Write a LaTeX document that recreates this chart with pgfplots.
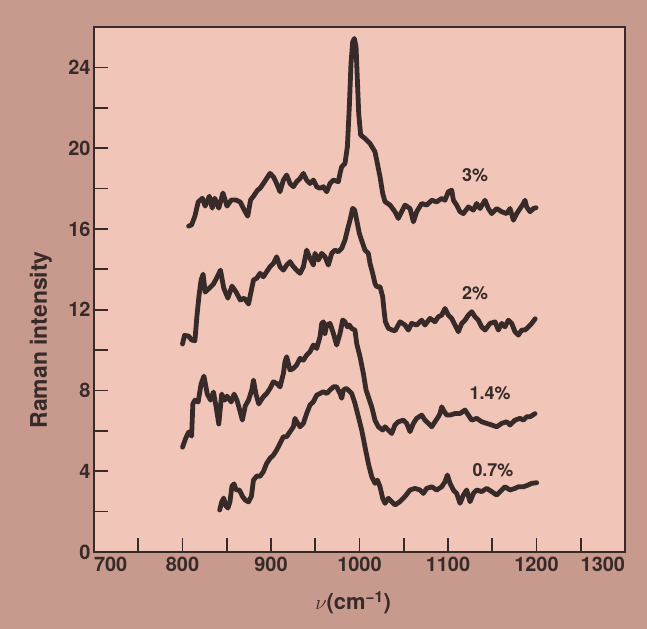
\documentclass[border=0pt]{standalone}
\usepackage{fontspec}
\setmainfont{TeX Gyre Heros}
\usepackage{pgfplots}
\usepackage{pgfplotstable}
\pgfplotsset{compat=1.18}
\definecolor{outerbg}{HTML}{C89A8E}
\definecolor{panel}{HTML}{F1C5B7}
\definecolor{ink}{HTML}{372A28}

\pgfplotstableread{
x y
807.0 16.14
810.3 16.20
814.0 16.63
817.7 17.33
822.4 17.52
825.6 17.13
830.3 17.62
833.6 17.03
836.4 17.52
841.0 17.03
845.7 17.78
850.3 17.13
855.0 17.43
860.6 17.43
865.3 17.33
869.9 16.93
873.7 16.63
876.9 17.43
880.2 17.62
884.8 17.92
887.6 18.01
891.4 18.25
895.1 18.50
898.9 18.75
902.7 18.58
906.4 18.25
910.2 17.84
914.0 18.42
917.7 18.67
921.5 18.25
925.3 18.09
929.0 18.34
932.8 18.50
936.6 18.75
940.3 18.42
944.1 18.25
947.9 18.42
951.6 18.09
955.4 18.01
959.2 18.09
962.9 17.84
966.7 18.25
970.5 18.42
976.1 18.34
978.0 18.75
979.9 19.08
983.6 19.24
986.3 20.07
988.5 22.05
990.4 24.19
992.3 25.27
994.2 25.43
996.1 25.02
997.6 23.37
999.1 21.72
1001.3 20.65
1006.2 20.48
1011.9 20.23
1017.5 19.82
1019.4 19.41
1023.2 18.58
1026.2 17.76
1028.8 17.35
1034.5 17.18
1040.1 16.85
1043.9 16.52
1051.4 17.18
1057.1 17.01
1060.9 16.35
1064.6 16.85
1070.3 17.26
1075.9 17.18
1081.6 17.42
1087.2 17.34
1092.9 17.51
1096.6 17.42
1100.4 17.84
1104.2 17.92
1106.1 17.42
1109.8 17.18
1113.6 16.85
1117.4 16.76
1123.0 17.09
1128.7 16.93
1132.4 17.26
1136.2 17.01
1141.8 17.42
1145.6 17.01
1149.4 16.76
1155.0 17.01
1160.7 16.85
1166.3 16.76
1170.1 17.01
1173.9 16.43
1177.6 16.76
1181.4 17.01
1185.2 17.26
1187.0 17.42
1188.9 17.09
1192.7 16.85
1196.5 17.01
1199.5 17.05
}\tthree

\pgfplotstableread{
x y
800.0 10.30
802.3 10.73
807.0 10.69
810.3 10.50
814.0 10.46
816.3 11.68
818.6 12.67
821.0 13.47
823.3 13.76
825.6 12.87
830.3 13.07
835.0 13.27
839.6 13.66
842.9 13.96
846.6 13.07
851.3 12.57
855.9 13.17
860.6 12.87
865.3 12.48
869.9 12.57
874.6 12.28
876.9 12.77
880.2 13.47
883.9 13.56
887.6 13.80
891.4 13.63
895.1 13.88
898.9 14.13
902.7 14.29
906.4 14.62
910.2 14.13
914.0 13.96
917.7 14.21
921.5 14.38
925.3 14.13
929.0 13.96
932.8 13.80
936.6 14.13
940.3 14.95
944.1 14.54
947.9 14.21
949.7 14.79
953.5 14.46
957.3 14.79
961.0 14.62
964.8 14.21
968.6 14.79
972.3 14.95
976.1 14.87
979.9 15.04
983.6 15.45
986.3 15.94
989.3 16.44
992.3 17.02
994.6 16.93
996.8 16.44
999.8 15.78
1002.9 15.37
1006.2 14.95
1010.0 14.79
1011.9 14.29
1014.9 13.80
1017.5 13.30
1019.4 13.14
1023.2 13.14
1026.2 12.64
1027.7 11.98
1029.2 11.41
1032.6 11.08
1036.4 11.00
1040.1 10.95
1045.8 11.40
1051.4 11.24
1055.2 10.99
1059.0 11.32
1064.6 11.24
1070.3 11.48
1074.0 11.24
1079.7 11.57
1085.3 11.40
1089.1 11.65
1092.9 11.73
1096.6 12.06
1100.4 11.73
1104.2 11.57
1107.9 11.24
1111.7 10.91
1115.5 11.32
1119.2 11.48
1123.0 11.73
1126.8 11.90
1130.5 11.65
1134.3 11.48
1138.1 11.15
1141.8 10.99
1147.5 11.32
1153.1 11.40
1156.9 10.99
1160.7 11.32
1164.4 11.15
1168.2 11.48
1172.0 11.32
1175.7 10.91
1179.5 10.74
1183.3 10.99
1187.0 10.99
1190.8 11.15
1194.6 11.32
1198.5 11.55
}\ttwo

\pgfplotstableread{
x y
800.0 5.19
803.7 5.64
807.0 5.94
810.3 5.74
811.7 7.33
814.0 7.52
817.7 7.43
821.0 8.32
824.2 8.71
828.0 7.82
831.7 7.52
835.0 7.92
838.2 7.13
841.0 6.34
844.3 7.82
847.6 7.52
850.3 7.72
855.0 7.43
858.3 7.82
861.5 7.52
865.3 6.93
867.6 6.53
870.9 7.23
874.6 7.52
878.3 8.02
880.2 8.51
883.0 7.82
886.2 7.33
887.6 7.44
891.4 7.69
895.1 7.85
898.9 8.10
902.7 8.43
906.4 8.35
910.2 8.18
914.0 8.84
915.8 9.42
917.7 9.67
921.5 9.01
925.3 9.09
929.0 9.26
932.8 9.59
936.6 9.50
940.3 9.75
944.1 9.92
947.9 10.25
951.6 10.08
955.4 10.66
957.3 11.32
959.2 11.40
961.0 10.82
962.9 11.24
966.7 11.32
970.5 10.82
974.2 10.25
978.0 10.82
981.0 11.49
983.6 11.40
986.3 11.15
988.5 11.24
991.2 11.07
994.9 10.99
996.8 10.33
1000.6 9.67
1004.4 8.84
1007.4 8.02
1010.0 7.69
1013.8 7.19
1017.5 6.53
1021.3 6.20
1026.2 6.04
1028.8 6.20
1032.6 6.04
1036.4 5.87
1040.1 6.29
1043.9 6.45
1049.6 6.53
1053.3 6.37
1057.1 5.96
1060.9 6.37
1064.6 6.62
1070.3 6.78
1074.0 6.53
1077.8 6.37
1081.6 6.20
1085.3 6.45
1089.1 6.70
1091.0 6.86
1092.9 7.19
1094.8 7.03
1098.5 6.78
1102.3 6.78
1108.0 6.86
1113.6 6.86
1119.2 7.03
1123.0 6.78
1126.8 6.53
1132.4 6.62
1138.1 6.45
1143.7 6.37
1149.4 6.29
1155.0 6.20
1160.7 6.37
1166.3 6.45
1170.1 6.29
1175.7 6.53
1181.4 6.62
1185.2 6.53
1188.9 6.70
1192.7 6.70
1198.3 6.85
}\tonefour

\pgfplotstableread{
x y
842.0 2.08
844.3 2.48
846.6 2.67
849.0 2.28
851.3 2.18
853.6 2.48
855.9 3.27
858.3 3.37
860.6 3.07
864.3 3.07
867.6 2.77
870.9 2.57
874.6 2.48
877.9 2.77
880.2 3.56
883.9 3.76
887.6 3.75
891.4 3.98
895.1 4.39
898.9 4.64
902.7 4.80
906.4 5.05
910.2 5.38
914.0 5.71
917.7 5.71
921.5 5.96
925.3 6.20
927.1 6.62
929.0 6.45
932.8 6.20
936.6 6.37
940.3 6.86
944.1 7.28
947.9 7.44
951.6 7.77
955.4 7.85
959.2 7.94
962.9 7.85
966.7 8.02
970.5 8.18
974.2 8.18
978.0 7.85
979.9 7.61
981.8 8.02
984.8 8.10
987.4 8.02
991.2 7.85
994.9 7.36
998.7 6.70
1002.5 6.04
1006.2 5.21
1010.0 4.39
1013.8 3.73
1017.5 3.40
1020.2 3.56
1023.2 3.23
1026.2 2.66
1028.8 2.41
1032.6 2.66
1036.4 2.49
1040.1 2.33
1045.8 2.50
1051.4 2.75
1057.1 3.07
1062.7 3.15
1068.4 3.07
1072.2 2.90
1075.9 3.15
1081.6 3.23
1087.2 3.07
1092.9 3.23
1096.6 3.48
1099.3 3.81
1102.3 3.40
1106.1 3.07
1109.8 2.90
1113.6 2.41
1117.4 2.82
1121.1 3.07
1124.9 2.49
1128.7 2.90
1132.4 3.07
1138.1 2.99
1143.7 3.15
1149.4 2.99
1155.0 2.82
1160.7 3.07
1164.4 3.23
1170.1 3.07
1175.7 3.15
1179.5 3.23
1185.2 3.23
1190.8 3.32
1194.6 3.40
1200.2 3.43
}\tzeroseven

\begin{document}
\begin{tikzpicture}
\fill[outerbg] (0,0) rectangle (647bp,629bp);
\useasboundingbox (0,0) rectangle (647bp,629bp);
\begin{axis}[
  at={(94bp,77bp)}, anchor=south west,
  scale only axis, width=531bp, height=525bp,
  xmin=700, xmax=1300, ymin=0, ymax=26,
  axis background/.style={fill=panel},
  axis line style={line width=1.7bp, color=ink},
  tick style={line width=1.7bp, color=ink},
  tick align=inside,
  xtick pos=bottom, ytick pos=left,
  major tick length=14bp,
  xtick={700,750,...,1300},
  xticklabels={\makebox[0pt][l]{700},,800,,900,,1000,,1100,,1200,,\makebox[0pt][r]{1300}},
  ytick={0,2,...,24},
  yticklabels={0,,4,,8,,12,,16,,20,,24},
  ticklabel style={font=\fontsize{20}{20}\selectfont\bfseries, text=ink},
  xticklabel style={yshift=-2bp},
  xlabel={$\nu$\bfseries(cm\textsuperscript{−1})},
  xlabel style={at={(axis description cs:0.488,-0.097)}, anchor=center,
     font=\fontsize{22}{22}\selectfont, text=ink},
  ylabel={\bfseries Raman intensity},
  ylabel style={at={(axis description cs:-0.10,0.404)}, anchor=center,
     font=\fontsize{23}{23}\selectfont, text=ink},
  clip=false,
]
\addplot[ink, line width=4.8bp, line join=round, line cap=round] table[x=x,y=y] {\tthree};
\addplot[ink, line width=4.8bp, line join=round, line cap=round] table[x=x,y=y] {\ttwo};
\addplot[ink, line width=4.8bp, line join=round, line cap=round] table[x=x,y=y] {\tonefour};
\addplot[ink, line width=4.8bp, line join=round, line cap=round] table[x=x,y=y] {\tzeroseven};
\node[font=\fontsize{18}{18}\selectfont\bfseries, text=ink] at (axis cs:1130.5,18.66) {3\%};
\node[font=\fontsize{18}{18}\selectfont\bfseries, text=ink] at (axis cs:1130.5,12.82) {2\%};
\node[font=\fontsize{18}{18}\selectfont\bfseries, text=ink] at (axis cs:1147.5,7.87) {1.4\%};
\node[font=\fontsize{18}{18}\selectfont\bfseries, text=ink] at (axis cs:1150.8,4.06) {0.7\%};
\end{axis}
\end{tikzpicture}
\end{document}
